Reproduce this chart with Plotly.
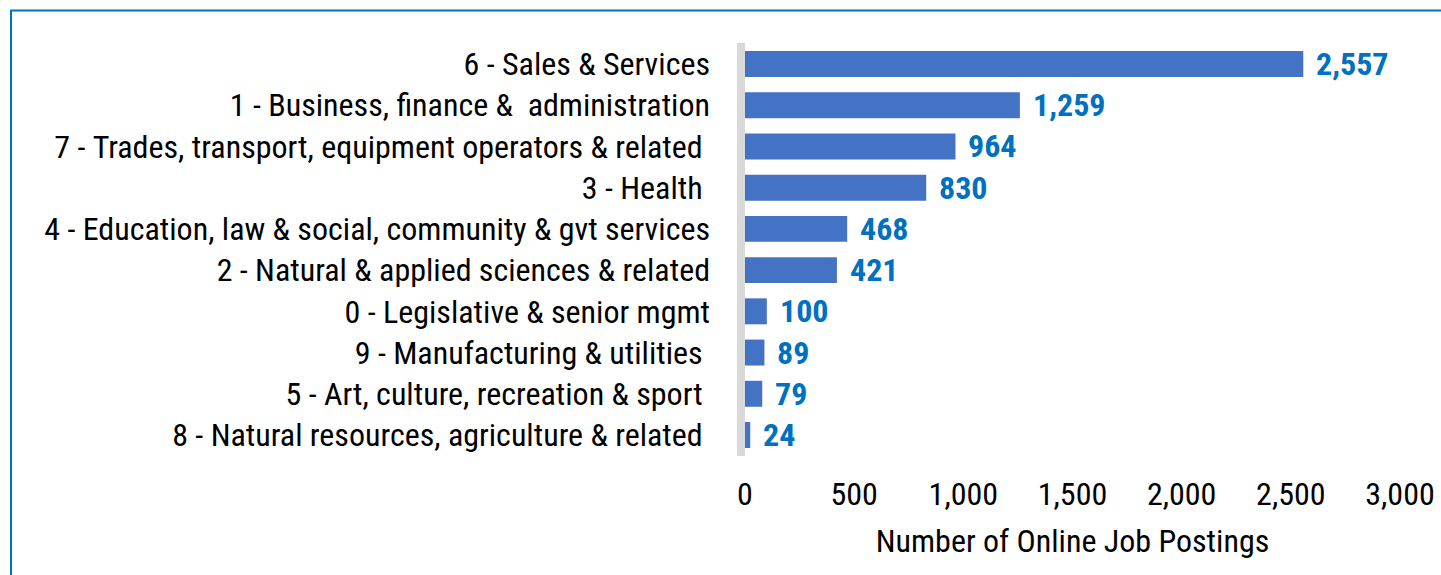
import plotly.graph_objects as go

categories = [
    "6 - Sales & Services",
    "1 - Business, finance &  administration",
    "7 - Trades, transport, equipment operators & related ",
    "3 - Health ",
    "4 - Education, law & social, community & gvt services",
    "2 - Natural & applied sciences & related",
    "0 - Legislative & senior mgmt",
    "9 - Manufacturing & utilities ",
    "5 - Art, culture, recreation & sport ",
    "8 - Natural resources, agriculture & related ",
]
postings = [2557, 1259, 964, 830, 468, 421, 100, 89, 79, 24]
x_ticks = [0, 500, 1000, 1500, 2000, 2500, 3000]
x_title = "Number of Online Job Postings"

FONT = "Roboto Condensed, Liberation Sans Narrow, Arial Narrow, Roboto, sans-serif"
FS = 32

disp = [c.replace(" ", "\u00a0") for c in categories]

fig = go.Figure()
fig.add_trace(go.Bar(
    y=disp, x=postings, orientation="h",
    marker=dict(color="#4472C4", line=dict(width=0)),
    hoverinfo="x+y",
))

for c, v in zip(disp, postings):
    fig.add_annotation(x=v, y=c, text=f"<b>{v:,}</b>", showarrow=False,
                       xanchor="left", xshift=11,
                       font=dict(family=FONT, size=FS, color="#0070C0"))

PW = 655  # plot width in px
PH = 413  # plot height in px
# thick grey vertical axis line just left of the plot area
fig.add_shape(type="rect", xref="paper", yref="paper",
              x0=-8/PW, x1=0, y0=0, y1=1,
              fillcolor="#D9D9D9", line=dict(width=0), layer="below")
# blue frame (top & left)
fig.add_shape(type="line", xref="paper", yref="paper",
              x0=-735/PW, x1=2, y0=1 + 32.5/PH, y1=1 + 32.5/PH,
              line=dict(color="#0070C0", width=2))
fig.add_shape(type="line", xref="paper", yref="paper",
              x0=-734/PW, x1=-734/PW, y0=1 + 33/PH, y1=-3,
              line=dict(color="#0070C0", width=2))

fig.update_layout(
    width=1441, height=575,
    margin=dict(l=745, r=41, t=43, b=119, autoexpand=False),
    paper_bgcolor="white", plot_bgcolor="white",
    font=dict(family=FONT, size=FS, color="#000000"),
    bargap=0.37,
    showlegend=False,
    xaxis=dict(range=[0, 3000], tickvals=x_ticks, tickformat=",",
               showgrid=False, zeroline=False, showline=False,
               automargin=False,
               ticklabelstandoff=16,
               tickfont=dict(family=FONT, size=FS),
               title=dict(text=x_title, standoff=17,
                          font=dict(family=FONT, size=FS))),
    yaxis=dict(autorange="reversed", showgrid=False, zeroline=False,
               showline=False, ticklabelstandoff=34, automargin=False,
               tickfont=dict(family=FONT, size=FS)),
)

fig.write_html("out.html", config={"displayModeBar": False},
               post_script="document.body.style.margin='0';")
